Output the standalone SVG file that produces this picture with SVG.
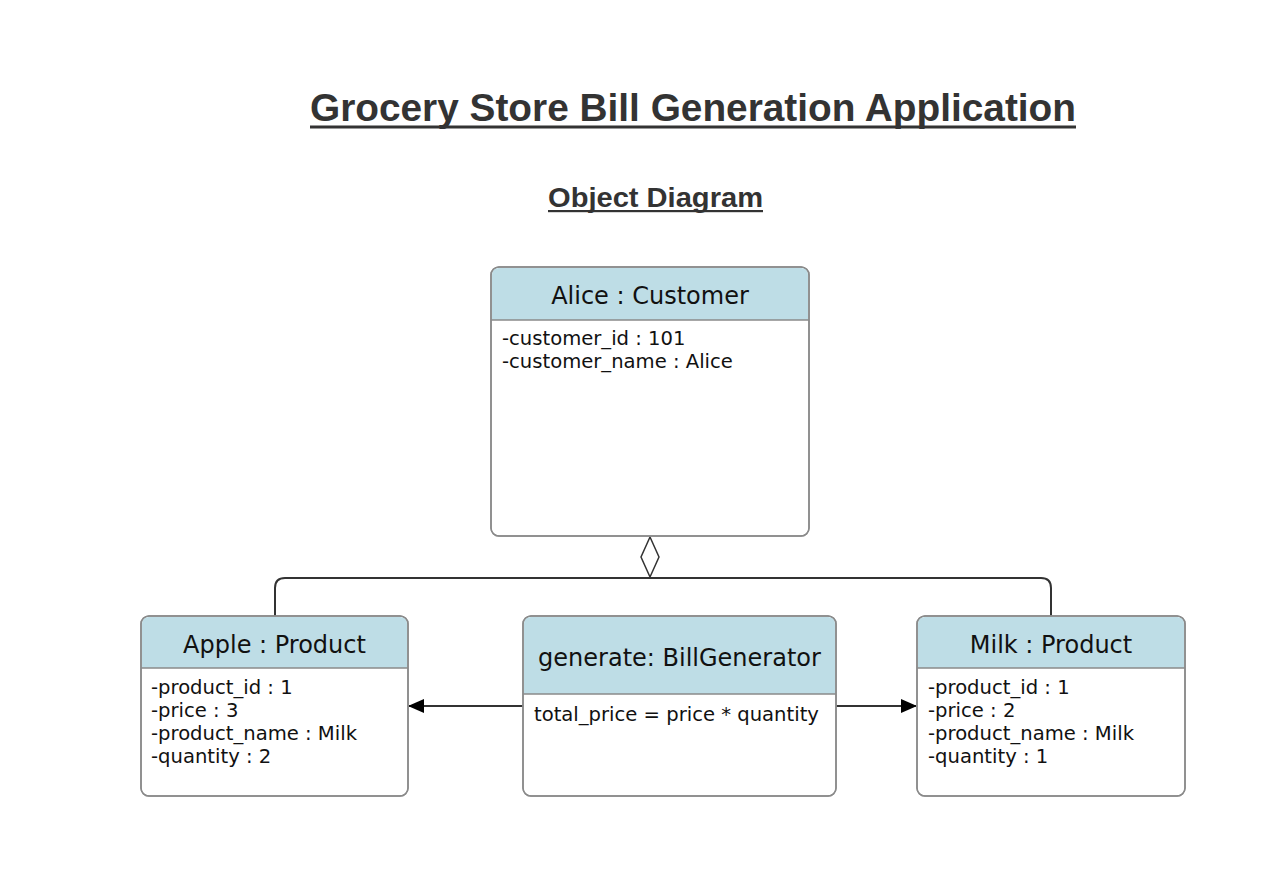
<svg xmlns="http://www.w3.org/2000/svg" width="1280" height="877" viewBox="0 0 1280 877">
<defs>
<style>
.title{font-family:"Liberation Sans",Arial,sans-serif;font-weight:bold;fill:#333;}
.box{fill:#fff;stroke:#8a8a8a;stroke-width:1.5;}
.hdr{fill:#bedde6;}
.sep{stroke:#8a8a8a;stroke-width:1.5;}
.name{font-family:"DejaVu Sans",Verdana,sans-serif;font-size:24px;fill:#111;text-anchor:middle;}
.attr{font-family:"DejaVu Sans",Verdana,sans-serif;font-size:19.6px;fill:#111;}
.conn{fill:none;stroke:#333;stroke-width:2;}
</style>
<marker id="arrow" markerWidth="16" markerHeight="14" refX="15" refY="7" orient="auto" markerUnits="userSpaceOnUse">
<path d="M0,0 L16,7 L0,14 Z" fill="#000"/>
</marker>
</defs>
<rect width="1280" height="877" fill="#fff"/>
<g id="titles">
<text class="title" x="310" y="121" font-size="39" textLength="766" lengthAdjust="spacingAndGlyphs">Grocery Store Bill Generation Application</text>
<rect x="310" y="125.5" width="766" height="3" fill="#333"/>
<text class="title" x="548" y="207" font-size="28" textLength="215" lengthAdjust="spacingAndGlyphs">Object Diagram</text>
<rect x="548" y="210" width="215" height="2.2" fill="#333"/>
</g>
<g id="connectors">
<path class="conn" d="M650,578 Q646,578 640,578 L285,578 Q275,578 275,588 L275,616"/>
<path class="conn" d="M650,578 Q654,578 660,578 L1041,578 Q1051,578 1051,588 L1051,616"/>
<path d="M650,537 L659,557 L650,577 L641,557 Z" fill="#fff" stroke="#333" stroke-width="1.5"/>
<line class="conn" x1="523" y1="706" x2="409" y2="706" marker-end="url(#arrow)"/>
<line class="conn" x1="836" y1="706" x2="916" y2="706" marker-end="url(#arrow)"/>
</g>
<g id="alice">
<rect class="box" x="491" y="267" width="318" height="269" rx="8"/>
<path class="hdr" d="M499,268 L801,268 Q808,268 808,275 L808,320 L492,320 L492,275 Q492,268 499,268 Z"/>
<line class="sep" x1="491" y1="320" x2="809" y2="320"/>
<rect x="491" y="267" width="318" height="269" rx="8" fill="none" stroke="#8a8a8a" stroke-width="1.5"/>
<text class="name" x="650" y="304">Alice : Customer</text>
<text class="attr" x="502" y="345">-customer_id : 101</text>
<text class="attr" x="502" y="368">-customer_name : Alice</text>
</g>
<g id="apple">
<rect class="box" x="141" y="616" width="267" height="180" rx="8"/>
<path class="hdr" d="M149,617 L400,617 Q407,617 407,624 L407,668 L142,668 L142,624 Q142,617 149,617 Z"/>
<line class="sep" x1="141" y1="668" x2="408" y2="668"/>
<rect x="141" y="616" width="267" height="180" rx="8" fill="none" stroke="#8a8a8a" stroke-width="1.5"/>
<text class="name" x="274.5" y="653">Apple : Product</text>
<text class="attr" x="151" y="694">-product_id : 1</text>
<text class="attr" x="151" y="717">-price : 3</text>
<text class="attr" x="151" y="740">-product_name : Milk</text>
<text class="attr" x="151" y="763">-quantity : 2</text>
</g>
<g id="generate">
<rect class="box" x="523" y="616" width="313" height="180" rx="8"/>
<path class="hdr" d="M531,617 L828,617 Q835,617 835,624 L835,694 L524,694 L524,624 Q524,617 531,617 Z"/>
<line class="sep" x1="523" y1="694" x2="836" y2="694"/>
<rect x="523" y="616" width="313" height="180" rx="8" fill="none" stroke="#8a8a8a" stroke-width="1.5"/>
<text class="name" x="679.5" y="666">generate: BillGenerator</text>
<text class="attr" x="534" y="721">total_price = price * quantity</text>
</g>
<g id="milk">
<rect class="box" x="917" y="616" width="268" height="180" rx="8"/>
<path class="hdr" d="M925,617 L1177,617 Q1184,617 1184,624 L1184,668 L918,668 L918,624 Q918,617 925,617 Z"/>
<line class="sep" x1="917" y1="668" x2="1185" y2="668"/>
<rect x="917" y="616" width="268" height="180" rx="8" fill="none" stroke="#8a8a8a" stroke-width="1.5"/>
<text class="name" x="1051" y="653">Milk : Product</text>
<text class="attr" x="928" y="694">-product_id : 1</text>
<text class="attr" x="928" y="717">-price : 2</text>
<text class="attr" x="928" y="740">-product_name : Milk</text>
<text class="attr" x="928" y="763">-quantity : 1</text>
</g>
</svg>
